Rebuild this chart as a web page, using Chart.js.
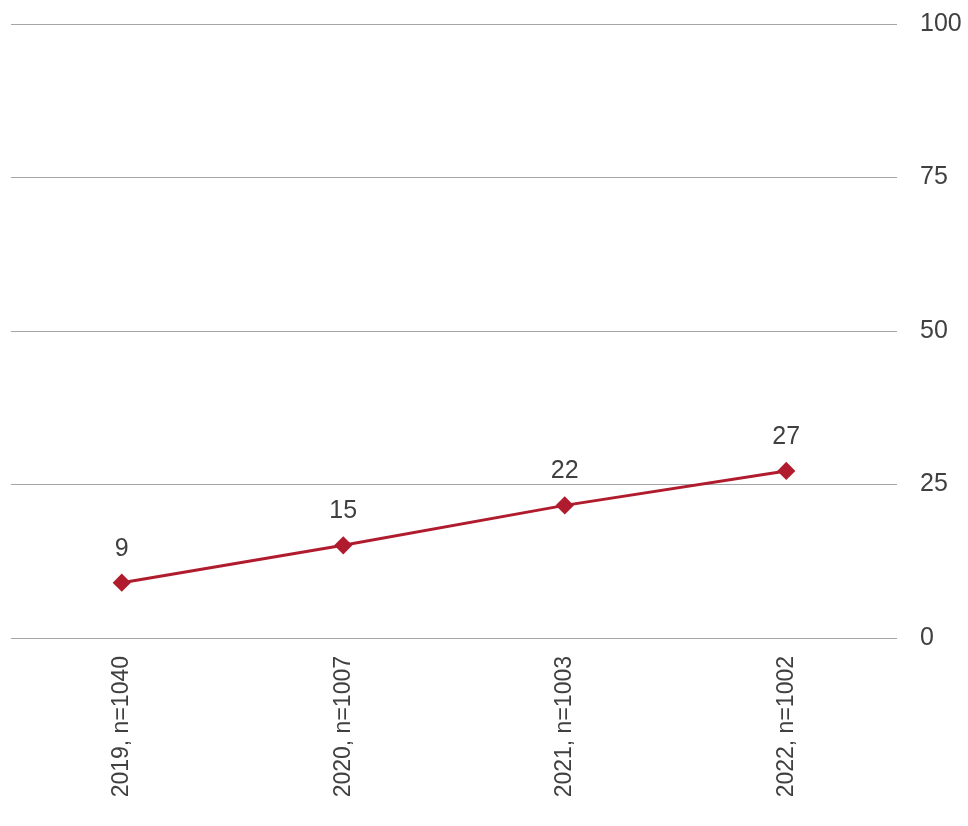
<!DOCTYPE html>
<html>
<head>
<meta charset="utf-8">
<script src="https://cdn.jsdelivr.net/npm/chart.js@4"></script>
<style>
  html, body { margin: 0; padding: 0; background: #fff; }
  #wrap { width: 968px; height: 826px; }
</style>
</head>
<body>
<div id="wrap"><canvas id="myChart"></canvas></div>
<script>
// data
const categories = ['2019, n=1040', '2020, n=1007', '2021, n=1003', '2022, n=1002'];
const values = [9, 15.1, 21.6, 27.2];
const yTicks = [0, 25, 50, 75, 100];

const red = '#b01c2e';
const textColor = '#404040';
const fontFamily = '"Liberation Sans", Arial, sans-serif';

// labels above points
const pointLabels = {
  id: 'pointLabels',
  afterDatasetsDraw(chart) {
    const ctx = chart.ctx;
    const meta = chart.getDatasetMeta(0);
    ctx.save();
    ctx.font = '25px ' + fontFamily;
    ctx.fillStyle = textColor;
    ctx.textAlign = 'center';
    ctx.textBaseline = 'middle';
    meta.data.forEach((pt, i) => {
      ctx.fillText(Math.round(values[i]), pt.x, pt.y - 34);
    });
    ctx.restore();
  }
};

var ctx = document.getElementById('myChart').getContext('2d');
var myChart = new Chart(ctx, {
  type: 'line',
  data: {
    labels: categories,
    datasets: [{
      data: values,
      borderColor: red,
      backgroundColor: red,
      borderWidth: 3,
      pointStyle: 'rectRot',
      pointRadius: 7,
      pointHoverRadius: 7,
      tension: 0,
    }]
  },
  options: {
    responsive: true,
    maintainAspectRatio: false,
    animation: false,
    layout: { padding: { left: 11, top: 24, right: 0, bottom: 0 } },
    plugins: {
      legend: { display: false },
      tooltip: { enabled: false },
    },
    scales: {
      x: {
        offset: true,
        grid: { display: false },
        border: { display: false },
        afterFit: (scale) => { scale.height = 188; },
        ticks: {
          color: textColor,
          font: { family: fontFamily, size: 23 },
          minRotation: 90,
          maxRotation: 90,
          padding: 10,
        }
      },
      y: {
        position: 'right',
        min: 0,
        max: 100,
        afterBuildTicks: (scale) => { scale.ticks = yTicks.map(v => ({ value: v })); },
        afterFit: (scale) => {
          scale.width = 71;
          scale.paddingTop = 0;
          scale.paddingBottom = 0;
        },
        grid: { color: '#a6a6a6', lineWidth: 1, drawTicks: false },
        border: { display: false },
        ticks: {
          color: textColor,
          font: { family: fontFamily, size: 25 },
          padding: 23,
        }
      }
    }
  },
  plugins: [pointLabels]
});
</script>
</body>
</html>
